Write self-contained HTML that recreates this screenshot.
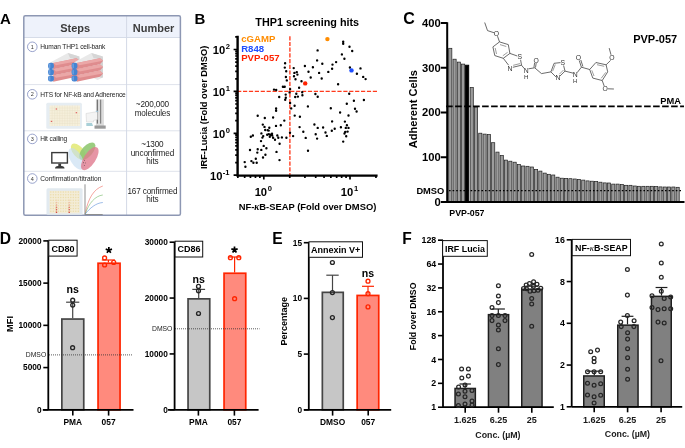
<!DOCTYPE html>
<html><head><meta charset="utf-8"><style>
html,body{margin:0;padding:0;background:#fff;width:685px;height:448px;overflow:hidden}
svg{display:block;font-family:"Liberation Sans", sans-serif;will-change:transform}
</style></head><body>
<svg width="685" height="448" viewBox="0 0 685 448">
<text x="0.00" y="24.20" font-size="15" font-weight="bold" text-anchor="start" fill="#000" >A</text>
<text x="194.50" y="24.20" font-size="15" font-weight="bold" text-anchor="start" fill="#000" >B</text>
<text x="403.20" y="23.60" font-size="16" font-weight="bold" text-anchor="start" fill="#000" >C</text>
<text x="-0.20" y="244.20" font-size="15.6" font-weight="bold" text-anchor="start" fill="#000" >D</text>
<text x="272.30" y="244.20" font-size="15.6" font-weight="bold" text-anchor="start" fill="#000" >E</text>
<text x="402.30" y="244.20" font-size="15.6" font-weight="bold" text-anchor="start" fill="#000" >F</text>
<rect x="23.80" y="15.80" width="156.60" height="21.70" fill="#eef2fb" stroke="none" stroke-width="1" />
<line x1="23.80" y1="84.60" x2="180.40" y2="84.60" stroke="#dfe3ec" stroke-width="1" />
<line x1="23.80" y1="130.80" x2="180.40" y2="130.80" stroke="#dfe3ec" stroke-width="1" />
<line x1="23.80" y1="171.30" x2="180.40" y2="171.30" stroke="#dfe3ec" stroke-width="1" />
<line x1="23.80" y1="37.50" x2="180.40" y2="37.50" stroke="#d6dce8" stroke-width="1.2" />
<line x1="126.60" y1="15.80" x2="126.60" y2="215.20" stroke="#d3d9e6" stroke-width="1" />
<rect x="23.80" y="15.80" width="156.60" height="199.40" fill="none" stroke="#8d97b3" stroke-width="1.5" rx="1.5"/>
<text x="75.20" y="31.60" font-size="11" font-weight="bold" text-anchor="middle" fill="#3c3c3c" >Steps</text>
<text x="153.50" y="31.60" font-size="11" font-weight="bold" text-anchor="middle" fill="#3c3c3c" >Number</text>
<circle cx="32.30" cy="46.80" r="4.80" fill="#fff" stroke="#7f8cbf" stroke-width="0.8"/>
<text x="32.30" y="48.80" font-size="5.5" font-weight="normal" text-anchor="middle" fill="#333" >1</text>
<text x="40.20" y="49.20" font-size="6.6" font-weight="normal" text-anchor="start" fill="#1e1e1e" letter-spacing="-0.15">Human THP1 cell-bank</text>
<circle cx="32.30" cy="94.30" r="4.80" fill="#fff" stroke="#7f8cbf" stroke-width="0.8"/>
<text x="32.30" y="96.30" font-size="5.5" font-weight="normal" text-anchor="middle" fill="#333" >2</text>
<text x="40.20" y="96.70" font-size="6.6" font-weight="normal" text-anchor="start" fill="#1e1e1e" letter-spacing="-0.15">HTS for NF-kB and Adherence</text>
<circle cx="32.30" cy="138.90" r="4.80" fill="#fff" stroke="#7f8cbf" stroke-width="0.8"/>
<text x="32.30" y="140.90" font-size="5.5" font-weight="normal" text-anchor="middle" fill="#333" >3</text>
<text x="40.20" y="141.30" font-size="6.6" font-weight="normal" text-anchor="start" fill="#1e1e1e" letter-spacing="-0.15">Hit calling</text>
<circle cx="32.30" cy="178.50" r="4.80" fill="#fff" stroke="#7f8cbf" stroke-width="0.8"/>
<text x="32.30" y="180.50" font-size="5.5" font-weight="normal" text-anchor="middle" fill="#333" >4</text>
<text x="40.20" y="180.90" font-size="6.6" font-weight="normal" text-anchor="start" fill="#1e1e1e" letter-spacing="0.02">Confirmation/titration</text>
<text x="152.40" y="107.00" font-size="8.2" font-weight="normal" text-anchor="middle" fill="#1e1e1e" letter-spacing="-0.15">~200,000</text>
<text x="152.40" y="115.50" font-size="8.2" font-weight="normal" text-anchor="middle" fill="#1e1e1e" letter-spacing="-0.15">molecules</text>
<text x="152.40" y="147.20" font-size="8.2" font-weight="normal" text-anchor="middle" fill="#1e1e1e" letter-spacing="-0.15">~1300</text>
<text x="152.40" y="155.70" font-size="8.2" font-weight="normal" text-anchor="middle" fill="#1e1e1e" letter-spacing="-0.15">unconfirmed</text>
<text x="152.40" y="164.20" font-size="8.2" font-weight="normal" text-anchor="middle" fill="#1e1e1e" letter-spacing="-0.15">hits</text>
<text x="152.40" y="193.90" font-size="8.2" font-weight="normal" text-anchor="middle" fill="#1e1e1e" letter-spacing="-0.15">167 confirmed</text>
<text x="152.40" y="202.40" font-size="8.2" font-weight="normal" text-anchor="middle" fill="#1e1e1e" letter-spacing="-0.15">hits</text>
<polygon points="50.6,62.2 67.9,53.1 79.4,56.4 79.4,77.5 74,80 53.8,70" fill="#e9e9e9"/>
<polygon points="67.9,53.1 79.4,56.4 79.4,60 70,58" fill="#d6d6d6"/>
<polygon points="75,58 79.4,58.5 79.4,77.5 77,78" fill="#d2d2d2"/>
<polygon points="53.2,63.0 76.5,58.2 79.6,60.8 76.5,64.2 53.2,69.2" fill="#df8c8e"/>
<polygon points="53.2,63.0 76.5,58.2 79.6,60.8 56,65.2" fill="#eba7a7"/>
<rect x="48.1" y="62.8" width="5.8" height="6.1" rx="2.2" fill="#4484d2"/>
<rect x="48.9" y="63.6" width="1.5" height="4.5" rx="0.7" fill="#6aa0e0"/>
<polygon points="53.2,69.3 76.5,64.5 79.6,67.1 76.5,70.5 53.2,75.5" fill="#df8c8e"/>
<polygon points="53.2,69.3 76.5,64.5 79.6,67.1 56,71.5" fill="#eba7a7"/>
<rect x="48.1" y="69.1" width="5.8" height="6.1" rx="2.2" fill="#4484d2"/>
<rect x="48.9" y="69.9" width="1.5" height="4.5" rx="0.7" fill="#6aa0e0"/>
<polygon points="53.2,75.6 76.5,70.8 79.6,73.39999999999999 76.5,76.8 53.2,81.8" fill="#df8c8e"/>
<polygon points="53.2,75.6 76.5,70.8 79.6,73.39999999999999 56,77.8" fill="#eba7a7"/>
<rect x="48.1" y="75.39999999999999" width="5.8" height="6.1" rx="2.2" fill="#4484d2"/>
<rect x="48.9" y="76.2" width="1.5" height="4.5" rx="0.7" fill="#6aa0e0"/>
<polygon points="74.1,62.2 91.4,53.1 102.9,56.4 102.9,77.5 97.5,80 77.3,70" fill="#e9e9e9"/>
<polygon points="91.4,53.1 102.9,56.4 102.9,60 93.5,58" fill="#d6d6d6"/>
<polygon points="98.5,58 102.9,58.5 102.9,77.5 100.5,78" fill="#d2d2d2"/>
<polygon points="76.7,63.0 100.0,58.2 103.1,60.8 100.0,64.2 76.7,69.2" fill="#df8c8e"/>
<polygon points="76.7,63.0 100.0,58.2 103.1,60.8 79.5,65.2" fill="#eba7a7"/>
<rect x="71.6" y="62.8" width="5.8" height="6.1" rx="2.2" fill="#4484d2"/>
<rect x="72.4" y="63.6" width="1.5" height="4.5" rx="0.7" fill="#6aa0e0"/>
<polygon points="76.7,69.3 100.0,64.5 103.1,67.1 100.0,70.5 76.7,75.5" fill="#df8c8e"/>
<polygon points="76.7,69.3 100.0,64.5 103.1,67.1 79.5,71.5" fill="#eba7a7"/>
<rect x="71.6" y="69.1" width="5.8" height="6.1" rx="2.2" fill="#4484d2"/>
<rect x="72.4" y="69.9" width="1.5" height="4.5" rx="0.7" fill="#6aa0e0"/>
<polygon points="76.7,75.6 100.0,70.8 103.1,73.39999999999999 100.0,76.8 76.7,81.8" fill="#df8c8e"/>
<polygon points="76.7,75.6 100.0,70.8 103.1,73.39999999999999 79.5,77.8" fill="#eba7a7"/>
<rect x="71.6" y="75.39999999999999" width="5.8" height="6.1" rx="2.2" fill="#4484d2"/>
<rect x="72.4" y="76.2" width="1.5" height="4.5" rx="0.7" fill="#6aa0e0"/>
<rect x="46.30" y="102.70" width="35.60" height="26.10" fill="#e6edf2" stroke="none" stroke-width="1" rx="1.5"/>
<rect x="49.60" y="105.50" width="30.40" height="20.50" fill="#f6f0dc" stroke="none" stroke-width="1" />
<path d="M52.13 105.5V126 M54.67 105.5V126 M57.20 105.5V126 M59.73 105.5V126 M62.27 105.5V126 M64.80 105.5V126 M67.33 105.5V126 M69.87 105.5V126 M72.40 105.5V126 M74.93 105.5V126 M77.47 105.5V126 M49.6 108.06H80 M49.6 110.62H80 M49.6 113.19H80 M49.6 115.75H80 M49.6 118.31H80 M49.6 120.88H80 M49.6 123.44H80" stroke="#e8e0c8" stroke-width="0.45" fill="none"/>
<rect x="55.70" y="108.40" width="1.40" height="1.20" fill="#e06060" stroke="none" stroke-width="1" />
<rect x="75.70" y="112.10" width="1.40" height="1.20" fill="#e06060" stroke="none" stroke-width="1" />
<rect x="50.80" y="120.80" width="1.40" height="1.20" fill="#e06060" stroke="none" stroke-width="1" />
<rect x="95.90" y="99.40" width="8.00" height="27.20" fill="#dcdcdc" stroke="none" stroke-width="1" />
<rect x="96.80" y="99.60" width="1.10" height="24.00" fill="#6a6a6a" stroke="none" stroke-width="1" />
<rect x="100.10" y="99.60" width="1.10" height="24.00" fill="#7a7a7a" stroke="none" stroke-width="1" />
<rect x="94.50" y="125.50" width="11.20" height="3.20" fill="#9a9a9a" stroke="none" stroke-width="1" />
<polygon points="86,113.5 96,111.8 97.5,112.3 97.5,119.5 93.5,120.5 93.5,122 86.5,122" fill="#f4f4f4" stroke="#c4c4c4" stroke-width="0.4"/>
<polygon points="86.3,123 92,123 93,126 86.3,126" fill="#a9d0d8"/>
<rect x="95.80" y="110.80" width="2.50" height="1.00" fill="#a8d0e6" stroke="none" stroke-width="1" />
<rect x="51.80" y="152.60" width="15.60" height="10.40" fill="none" stroke="#3a3a3a" stroke-width="1.4" />
<rect x="58.30" y="163.60" width="2.80" height="2.40" fill="#3a3a3a" stroke="none" stroke-width="1" />
<path d="M55 168.6 Q55 166 58 166 H61.5 Q64.5 166 64.5 168.6 Z" fill="#3a3a3a"/>
<ellipse cx="78.5" cy="151.8" rx="5.3" ry="10" transform="rotate(-41 78.5 151.8)" fill="#e6ec88"/>
<ellipse cx="87.3" cy="151.2" rx="5.4" ry="10.7" transform="rotate(41.6 87.3 151.2)" fill="#90c872" opacity="0.9"/>
<ellipse cx="76.2" cy="158.9" rx="5.9" ry="12" transform="rotate(-30 76.2 158.9)" fill="#c4dcf0" opacity="0.62"/>
<ellipse cx="89.8" cy="158.6" rx="5.9" ry="13.3" transform="rotate(33 89.8 158.6)" fill="#e07a8e" opacity="0.8"/>
<circle cx="84.40" cy="160.40" r="0.45" fill="#333" stroke="none" stroke-width="1"/>
<circle cx="85.50" cy="162.90" r="0.45" fill="#333" stroke="none" stroke-width="1"/>
<circle cx="83.40" cy="162.70" r="0.45" fill="#333" stroke="none" stroke-width="1"/>
<circle cx="84.40" cy="165.40" r="0.45" fill="#333" stroke="none" stroke-width="1"/>
<rect x="46.50" y="188.30" width="36.10" height="26.50" fill="#e2eaf0" stroke="none" stroke-width="1" rx="1.5"/>
<rect x="49.50" y="190.80" width="30.20" height="22.50" fill="#f3ecd6" stroke="none" stroke-width="1" />
<path d="M50.80 192.00h0.01 M50.80 194.75h0.01 M50.80 197.50h0.01 M50.80 200.25h0.01 M50.80 203.00h0.01 M50.80 205.75h0.01 M50.80 208.50h0.01 M50.80 211.25h0.01 M53.30 192.00h0.01 M53.30 194.75h0.01 M53.30 197.50h0.01 M53.30 200.25h0.01 M53.30 203.00h0.01 M53.30 205.75h0.01 M53.30 208.50h0.01 M53.30 211.25h0.01 M55.80 192.00h0.01 M55.80 194.75h0.01 M55.80 197.50h0.01 M55.80 200.25h0.01 M55.80 203.00h0.01 M55.80 205.75h0.01 M55.80 208.50h0.01 M55.80 211.25h0.01 M58.30 192.00h0.01 M58.30 194.75h0.01 M58.30 197.50h0.01 M58.30 200.25h0.01 M58.30 203.00h0.01 M58.30 205.75h0.01 M58.30 208.50h0.01 M58.30 211.25h0.01 M60.80 192.00h0.01 M60.80 194.75h0.01 M60.80 197.50h0.01 M60.80 200.25h0.01 M60.80 203.00h0.01 M60.80 205.75h0.01 M60.80 208.50h0.01 M60.80 211.25h0.01 M63.30 192.00h0.01 M63.30 194.75h0.01 M63.30 197.50h0.01 M63.30 200.25h0.01 M63.30 203.00h0.01 M63.30 205.75h0.01 M63.30 208.50h0.01 M63.30 211.25h0.01 M65.80 192.00h0.01 M65.80 194.75h0.01 M65.80 197.50h0.01 M65.80 200.25h0.01 M65.80 203.00h0.01 M65.80 205.75h0.01 M65.80 208.50h0.01 M65.80 211.25h0.01 M68.30 192.00h0.01 M68.30 194.75h0.01 M68.30 197.50h0.01 M68.30 200.25h0.01 M68.30 203.00h0.01 M68.30 205.75h0.01 M68.30 208.50h0.01 M68.30 211.25h0.01 M70.80 192.00h0.01 M70.80 194.75h0.01 M70.80 197.50h0.01 M70.80 200.25h0.01 M70.80 203.00h0.01 M70.80 205.75h0.01 M70.80 208.50h0.01 M70.80 211.25h0.01 M73.30 192.00h0.01 M73.30 194.75h0.01 M73.30 197.50h0.01 M73.30 200.25h0.01 M73.30 203.00h0.01 M73.30 205.75h0.01 M73.30 208.50h0.01 M73.30 211.25h0.01 M75.80 192.00h0.01 M75.80 194.75h0.01 M75.80 197.50h0.01 M75.80 200.25h0.01 M75.80 203.00h0.01 M75.80 205.75h0.01 M75.80 208.50h0.01 M75.80 211.25h0.01 M78.30 192.00h0.01 M78.30 194.75h0.01 M78.30 197.50h0.01 M78.30 200.25h0.01 M78.30 203.00h0.01 M78.30 205.75h0.01 M78.30 208.50h0.01 M78.30 211.25h0.01" stroke="#ebdcaa" stroke-width="1.4" stroke-linecap="round"/>
<circle cx="56.50" cy="200.20" r="0.80" fill="#f3d6b8" stroke="none" stroke-width="1"/>
<circle cx="56.50" cy="202.60" r="0.80" fill="#eec0a8" stroke="none" stroke-width="1"/>
<circle cx="56.50" cy="205.00" r="0.80" fill="#e8a08a" stroke="none" stroke-width="1"/>
<circle cx="56.50" cy="207.40" r="0.80" fill="#df7b6a" stroke="none" stroke-width="1"/>
<circle cx="56.50" cy="209.80" r="0.80" fill="#d8564a" stroke="none" stroke-width="1"/>
<circle cx="56.50" cy="212.20" r="0.80" fill="#cf3b30" stroke="none" stroke-width="1"/>
<circle cx="69.20" cy="200.20" r="0.80" fill="#f3d6b8" stroke="none" stroke-width="1"/>
<circle cx="69.20" cy="202.60" r="0.80" fill="#eec0a8" stroke="none" stroke-width="1"/>
<circle cx="69.20" cy="205.00" r="0.80" fill="#e8a08a" stroke="none" stroke-width="1"/>
<circle cx="69.20" cy="207.40" r="0.80" fill="#df7b6a" stroke="none" stroke-width="1"/>
<circle cx="69.20" cy="209.80" r="0.80" fill="#d8564a" stroke="none" stroke-width="1"/>
<circle cx="69.20" cy="212.20" r="0.80" fill="#cf3b30" stroke="none" stroke-width="1"/>
<line x1="85.00" y1="184.30" x2="85.00" y2="214.80" stroke="#444" stroke-width="0.6" />
<line x1="85.00" y1="214.60" x2="102.70" y2="214.60" stroke="#888" stroke-width="1.0" />
<path d="M85.2 214 C 88 198, 94 189, 102.8 186" stroke="#ef6a5f" stroke-width="0.6" fill="none"/>
<path d="M85.2 214 C 89 203, 95 196, 102.8 195" stroke="#76b866" stroke-width="0.6" fill="none"/>
<path d="M85.2 214 C 90 208, 96 203, 102.8 202.5" stroke="#5b8ed6" stroke-width="0.6" fill="none"/>
<text x="307.20" y="26.40" font-size="10.8" font-weight="bold" text-anchor="middle" fill="#000" >THP1 screening hits</text>
<line x1="289.90" y1="36.20" x2="289.90" y2="175.00" stroke="#ff3a1c" stroke-width="1.35" stroke-dasharray="4.2 1.5"/>
<line x1="237.10" y1="91.40" x2="378.00" y2="91.40" stroke="#ff3a1c" stroke-width="1.3" stroke-dasharray="4.2 1.7"/>
<path d="M285.1 63.2h0.01 M284.8 67.6h0.01 M286.2 71.2h0.01 M285.9 77.0h0.01 M286.8 80.4h0.01 M293.7 68.1h0.01 M294.4 72.9h0.01 M296.8 72.1h0.01 M297.4 74.6h0.01 M294.0 76.2h0.01 M295.5 79.2h0.01 M304.9 66.0h0.01 M308.5 71.8h0.01 M301.5 81.3h0.01 M282.9 86.8h0.01 M284.7 86.8h0.01 M299.1 87.7h0.01 M274.0 89.6h0.01 M276.2 90.0h0.01 M290.1 89.1h0.01 M289.6 92.4h0.01 M285.7 94.6h0.01 M296.3 93.8h0.01 M302.2 92.2h0.01 M302.4 95.2h0.01 M343.2 41.8h0.01 M343.2 43.8h0.01 M349.5 46.7h0.01 M352.2 51.0h0.01 M317.6 50.4h0.01 M341.9 54.4h0.01 M344.4 58.8h0.01 M317.1 60.4h0.01 M322.3 63.7h0.01 M336.1 62.1h0.01 M332.5 64.6h0.01 M332.1 68.8h0.01 M328.3 71.9h0.01 M312.9 67.2h0.01 M319.1 72.9h0.01 M310.7 77.5h0.01 M321.7 78.5h0.01 M338.1 84.2h0.01 M349.9 67.5h0.01 M360.5 68.4h0.01 M356.9 73.8h0.01 M363.2 76.9h0.01 M365.6 79.1h0.01 M315.4 94.0h0.01 M317.7 96.8h0.01 M349.2 93.7h0.01 M353.9 100.8h0.01 M363.9 100.0h0.01 M346.8 103.7h0.01 M307.9 106.4h0.01 M330.8 108.2h0.01 M340.1 112.5h0.01 M355.0 108.8h0.01 M356.6 111.5h0.01 M348.5 115.5h0.01 M332.1 121.4h0.01 M344.9 121.6h0.01 M314.4 124.5h0.01 M317.7 127.9h0.01 M323.1 127.5h0.01 M334.7 128.8h0.01 M331.8 130.8h0.01 M340.9 127.2h0.01 M346.9 125.2h0.01 M345.8 127.9h0.01 M348.5 127.9h0.01 M345.2 131.9h0.01 M347.6 131.6h0.01 M344.5 133.5h0.01 M346.2 136.2h0.01 M325.5 132.5h0.01 M326.8 135.9h0.01 M315.7 134.3h0.01 M317.1 138.6h0.01 M305.7 137.9h0.01 M343.2 141.6h0.01 M279.2 97.0h0.01 M285.2 99.7h0.01 M285.8 97.7h0.01 M295.2 97.0h0.01 M297.9 96.6h0.01 M290.1 103.0h0.01 M294.6 105.7h0.01 M291.2 108.4h0.01 M276.1 108.4h0.01 M276.1 110.8h0.01 M257.7 115.8h0.01 M264.8 118.0h0.01 M273.1 117.5h0.01 M299.9 116.7h0.01 M299.6 127.1h0.01 M250.0 150.0h0.01 M257.7 149.2h0.01 M263.7 145.9h0.01 M261.3 149.9h0.01 M266.4 148.3h0.01 M276.5 151.9h0.01 M257.3 152.6h0.01 M303.3 131.8h0.01 M294.7 115.6h0.01 M284.3 120.6h0.01 M262.8 124.6h0.01 M264.5 126.9h0.01 M269.3 127.7h0.01 M276.0 125.9h0.01 M280.8 125.2h0.01 M265.2 130.0h0.01 M267.8 130.2h0.01 M268.7 130.6h0.01 M261.4 133.4h0.01 M250.8 136.8h0.01 M252.9 135.5h0.01 M263.2 136.1h0.01 M262.4 137.6h0.01 M267.2 134.8h0.01 M268.8 134.1h0.01 M270.4 134.8h0.01 M272.0 133.6h0.01 M272.2 135.4h0.01 M269.8 136.7h0.01 M273.1 137.7h0.01 M275.0 139.8h0.01 M277.3 135.4h0.01 M278.3 137.7h0.01 M281.9 137.4h0.01 M286.4 137.7h0.01 M290.0 132.8h0.01 M293.1 136.1h0.01 M261.0 141.1h0.01 M279.6 143.8h0.01 M265.4 154.8h0.01 M263.0 157.5h0.01 M255.8 158.8h0.01 M251.4 161.1h0.01 M253.4 162.8h0.01 M256.7 162.8h0.01 M244.7 162.1h0.01 M245.4 166.8h0.01 M279.5 160.1h0.01 M308.0 150.8h0.01" stroke="#000" stroke-width="2.4" stroke-linecap="round" fill="none"/>
<circle cx="327.40" cy="39.10" r="2.20" fill="#ff8c00" stroke="none" stroke-width="1"/>
<circle cx="351.50" cy="70.40" r="2.20" fill="#1f4fff" stroke="none" stroke-width="1"/>
<circle cx="305.20" cy="83.40" r="2.20" fill="#ff2200" stroke="none" stroke-width="1"/>
<text x="241.20" y="41.90" font-size="9.6" font-weight="bold" text-anchor="start" fill="#ff8c00" >cGAMP</text>
<text x="241.20" y="51.60" font-size="9.6" font-weight="bold" text-anchor="start" fill="#1f4fff" >R848</text>
<text x="241.20" y="61.30" font-size="9.6" font-weight="bold" text-anchor="start" fill="#ff2200" >PVP-057</text>
<path d="M237.6 35.8 V175.6 H377.6" stroke="#000" stroke-width="2.4" fill="none" stroke-linejoin="miter"/>
<path d="M233.6 175.20H237.6 M235.2 162.59H237.6 M235.2 155.21H237.6 M235.2 149.97H237.6 M235.2 145.91H237.6 M235.2 142.60H237.6 M235.2 139.79H237.6 M235.2 137.36H237.6 M235.2 135.22H237.6 M233.6 133.30H237.6 M235.2 120.69H237.6 M235.2 113.31H237.6 M235.2 108.07H237.6 M235.2 104.01H237.6 M235.2 100.70H237.6 M235.2 97.89H237.6 M235.2 95.46H237.6 M235.2 93.32H237.6 M233.6 91.40H237.6 M235.2 78.79H237.6 M235.2 71.41H237.6 M235.2 66.17H237.6 M235.2 62.11H237.6 M235.2 58.80H237.6 M235.2 55.99H237.6 M235.2 53.56H237.6 M235.2 51.42H237.6 M233.6 49.50H237.6 M235.2 36.89H237.6 M237.85 175.6V178.0 M244.68 175.6V178.0 M250.45 175.6V178.0 M255.45 175.6V178.0 M259.86 175.6V178.0 M263.80 175.6V179.6 M289.75 175.6V178.0 M304.93 175.6V178.0 M315.70 175.6V178.0 M324.05 175.6V178.0 M330.88 175.6V178.0 M336.65 175.6V178.0 M341.65 175.6V178.0 M346.06 175.6V178.0 M350.00 175.6V179.6 M375.95 175.6V178.0 M375.95 175.6V177.8" stroke="#000" stroke-width="1.7" fill="none"/>
<text x="225.30" y="54.30" font-size="11.2" font-weight="bold" text-anchor="end" fill="#000" >10</text>
<text x="225.70" y="49.30" font-size="7.6" font-weight="bold" text-anchor="start" fill="#000" >2</text>
<text x="225.30" y="96.20" font-size="11.2" font-weight="bold" text-anchor="end" fill="#000" >10</text>
<text x="225.70" y="91.20" font-size="7.6" font-weight="bold" text-anchor="start" fill="#000" >1</text>
<text x="225.30" y="138.10" font-size="11.2" font-weight="bold" text-anchor="end" fill="#000" >10</text>
<text x="225.70" y="133.10" font-size="7.6" font-weight="bold" text-anchor="start" fill="#000" >0</text>
<text x="222.40" y="180.00" font-size="11.2" font-weight="bold" text-anchor="end" fill="#000" >10</text>
<text x="222.80" y="175.00" font-size="7.6" font-weight="bold" text-anchor="start" fill="#000" >-1</text>
<text x="267.10" y="196.00" font-size="11.2" font-weight="bold" text-anchor="end" fill="#000" >10</text>
<text x="267.70" y="191.20" font-size="7.6" font-weight="bold" text-anchor="start" fill="#000" >0</text>
<text x="353.30" y="196.00" font-size="11.2" font-weight="bold" text-anchor="end" fill="#000" >10</text>
<text x="353.90" y="191.20" font-size="7.6" font-weight="bold" text-anchor="start" fill="#000" >1</text>
<text x="307.50" y="210.20" font-size="9.4" font-weight="bold" text-anchor="middle" fill="#000" >NF-<tspan font-family="Liberation Serif" font-style="italic">κ</tspan>B-SEAP (Fold over DMSO)</text>
<text transform="translate(206.6 107.4) rotate(-90)" font-size="9.3" font-weight="bold" text-anchor="middle">IRF-Lucia (Fold over DMSO)</text>
<rect x="448.70" y="48.30" width="3.15" height="153.70" fill="#9c9c9c" stroke="#1e1e1e" stroke-width="0.7" />
<rect x="452.99" y="59.20" width="3.15" height="142.80" fill="#9c9c9c" stroke="#1e1e1e" stroke-width="0.7" />
<rect x="457.28" y="62.10" width="3.15" height="139.90" fill="#9c9c9c" stroke="#1e1e1e" stroke-width="0.7" />
<rect x="461.57" y="64.10" width="3.15" height="137.90" fill="#9c9c9c" stroke="#1e1e1e" stroke-width="0.7" />
<rect x="465.56" y="65.20" width="3.15" height="136.80" fill="#000" stroke="#000" stroke-width="0.9" />
<rect x="470.15" y="87.50" width="3.15" height="114.50" fill="#9c9c9c" stroke="#1e1e1e" stroke-width="0.7" />
<rect x="474.44" y="107.00" width="3.15" height="95.00" fill="#9c9c9c" stroke="#1e1e1e" stroke-width="0.7" />
<rect x="478.73" y="133.20" width="3.15" height="68.80" fill="#9c9c9c" stroke="#1e1e1e" stroke-width="0.7" />
<rect x="483.02" y="134.10" width="3.15" height="67.90" fill="#9c9c9c" stroke="#1e1e1e" stroke-width="0.7" />
<rect x="487.31" y="134.60" width="3.15" height="67.40" fill="#9c9c9c" stroke="#1e1e1e" stroke-width="0.7" />
<rect x="491.60" y="142.70" width="3.15" height="59.30" fill="#9c9c9c" stroke="#1e1e1e" stroke-width="0.7" />
<rect x="495.89" y="152.10" width="3.15" height="49.90" fill="#9c9c9c" stroke="#1e1e1e" stroke-width="0.7" />
<rect x="500.18" y="155.50" width="3.15" height="46.50" fill="#9c9c9c" stroke="#1e1e1e" stroke-width="0.7" />
<rect x="504.47" y="160.10" width="3.15" height="41.90" fill="#9c9c9c" stroke="#1e1e1e" stroke-width="0.7" />
<rect x="508.76" y="161.20" width="3.15" height="40.80" fill="#9c9c9c" stroke="#1e1e1e" stroke-width="0.7" />
<rect x="513.05" y="162.20" width="3.15" height="39.80" fill="#9c9c9c" stroke="#1e1e1e" stroke-width="0.7" />
<rect x="517.34" y="164.50" width="3.15" height="37.50" fill="#9c9c9c" stroke="#1e1e1e" stroke-width="0.7" />
<rect x="521.63" y="166.00" width="3.15" height="36.00" fill="#9c9c9c" stroke="#1e1e1e" stroke-width="0.7" />
<rect x="525.92" y="166.30" width="3.15" height="35.70" fill="#9c9c9c" stroke="#1e1e1e" stroke-width="0.7" />
<rect x="530.21" y="167.00" width="3.15" height="35.00" fill="#9c9c9c" stroke="#1e1e1e" stroke-width="0.7" />
<rect x="534.50" y="169.50" width="3.15" height="32.50" fill="#9c9c9c" stroke="#1e1e1e" stroke-width="0.7" />
<rect x="538.79" y="171.10" width="3.15" height="30.90" fill="#9c9c9c" stroke="#1e1e1e" stroke-width="0.7" />
<rect x="543.08" y="173.10" width="3.15" height="28.90" fill="#9c9c9c" stroke="#1e1e1e" stroke-width="0.7" />
<rect x="547.37" y="174.30" width="3.15" height="27.70" fill="#9c9c9c" stroke="#1e1e1e" stroke-width="0.7" />
<rect x="551.66" y="175.00" width="3.15" height="27.00" fill="#9c9c9c" stroke="#1e1e1e" stroke-width="0.7" />
<rect x="555.95" y="177.20" width="3.15" height="24.80" fill="#9c9c9c" stroke="#1e1e1e" stroke-width="0.7" />
<rect x="560.24" y="178.20" width="3.15" height="23.80" fill="#9c9c9c" stroke="#1e1e1e" stroke-width="0.7" />
<rect x="564.53" y="178.40" width="3.15" height="23.60" fill="#9c9c9c" stroke="#1e1e1e" stroke-width="0.7" />
<rect x="568.82" y="178.70" width="3.15" height="23.30" fill="#9c9c9c" stroke="#1e1e1e" stroke-width="0.7" />
<rect x="573.11" y="179.00" width="3.15" height="23.00" fill="#9c9c9c" stroke="#1e1e1e" stroke-width="0.7" />
<rect x="577.40" y="179.40" width="3.15" height="22.60" fill="#9c9c9c" stroke="#1e1e1e" stroke-width="0.7" />
<rect x="581.69" y="180.10" width="3.15" height="21.90" fill="#9c9c9c" stroke="#1e1e1e" stroke-width="0.7" />
<rect x="585.98" y="180.90" width="3.15" height="21.10" fill="#9c9c9c" stroke="#1e1e1e" stroke-width="0.7" />
<rect x="590.27" y="181.20" width="3.15" height="20.80" fill="#9c9c9c" stroke="#1e1e1e" stroke-width="0.7" />
<rect x="594.56" y="181.50" width="3.15" height="20.50" fill="#9c9c9c" stroke="#1e1e1e" stroke-width="0.7" />
<rect x="598.85" y="182.20" width="3.15" height="19.80" fill="#9c9c9c" stroke="#1e1e1e" stroke-width="0.7" />
<rect x="603.14" y="182.90" width="3.15" height="19.10" fill="#9c9c9c" stroke="#1e1e1e" stroke-width="0.7" />
<rect x="607.43" y="183.00" width="3.15" height="19.00" fill="#9c9c9c" stroke="#1e1e1e" stroke-width="0.7" />
<rect x="611.72" y="184.10" width="3.15" height="17.90" fill="#9c9c9c" stroke="#1e1e1e" stroke-width="0.7" />
<rect x="616.01" y="184.10" width="3.15" height="17.90" fill="#9c9c9c" stroke="#1e1e1e" stroke-width="0.7" />
<rect x="620.30" y="184.50" width="3.15" height="17.50" fill="#9c9c9c" stroke="#1e1e1e" stroke-width="0.7" />
<rect x="624.59" y="185.30" width="3.15" height="16.70" fill="#9c9c9c" stroke="#1e1e1e" stroke-width="0.7" />
<rect x="628.88" y="185.30" width="3.15" height="16.70" fill="#9c9c9c" stroke="#1e1e1e" stroke-width="0.7" />
<rect x="633.17" y="186.00" width="3.15" height="16.00" fill="#9c9c9c" stroke="#1e1e1e" stroke-width="0.7" />
<rect x="637.46" y="186.30" width="3.15" height="15.70" fill="#9c9c9c" stroke="#1e1e1e" stroke-width="0.7" />
<rect x="641.75" y="186.30" width="3.15" height="15.70" fill="#9c9c9c" stroke="#1e1e1e" stroke-width="0.7" />
<rect x="646.04" y="186.30" width="3.15" height="15.70" fill="#9c9c9c" stroke="#1e1e1e" stroke-width="0.7" />
<rect x="650.33" y="186.30" width="3.15" height="15.70" fill="#9c9c9c" stroke="#1e1e1e" stroke-width="0.7" />
<rect x="654.62" y="186.60" width="3.15" height="15.40" fill="#9c9c9c" stroke="#1e1e1e" stroke-width="0.7" />
<rect x="658.91" y="186.90" width="3.15" height="15.10" fill="#9c9c9c" stroke="#1e1e1e" stroke-width="0.7" />
<rect x="663.20" y="187.00" width="3.15" height="15.00" fill="#9c9c9c" stroke="#1e1e1e" stroke-width="0.7" />
<rect x="667.49" y="187.00" width="3.15" height="15.00" fill="#9c9c9c" stroke="#1e1e1e" stroke-width="0.7" />
<rect x="671.78" y="187.00" width="3.15" height="15.00" fill="#9c9c9c" stroke="#1e1e1e" stroke-width="0.7" />
<rect x="676.07" y="187.30" width="3.15" height="14.70" fill="#9c9c9c" stroke="#1e1e1e" stroke-width="0.7" />
<line x1="446.10" y1="106.40" x2="684.00" y2="106.40" stroke="#000" stroke-width="1.6" stroke-dasharray="6.6 2.4"/>
<line x1="449.00" y1="190.70" x2="683.00" y2="190.70" stroke="#000" stroke-width="1.3" stroke-dasharray="1.6 2.0"/>
<path d="M447.2 22.3 V202.0 H684.5" stroke="#000" stroke-width="2" fill="none"/>
<path d="M440.8 202.00H447.2 M440.8 157.25H447.2 M440.8 112.50H447.2 M440.8 67.75H447.2 M440.8 23.00H447.2" stroke="#000" stroke-width="1.8" fill="none"/>
<text x="440.70" y="161.15" font-size="11.2" font-weight="bold" text-anchor="end" fill="#000" >100</text>
<text x="440.70" y="116.40" font-size="11.2" font-weight="bold" text-anchor="end" fill="#000" >200</text>
<text x="440.70" y="71.65" font-size="11.2" font-weight="bold" text-anchor="end" fill="#000" >300</text>
<text x="440.70" y="26.90" font-size="11.2" font-weight="bold" text-anchor="end" fill="#000" >400</text>
<text x="440.70" y="206.20" font-size="11.2" font-weight="bold" text-anchor="end" fill="#000" >0</text>
<text x="444.30" y="194.30" font-size="9.3" font-weight="bold" text-anchor="end" fill="#000" >DMSO</text>
<text x="681.00" y="103.80" font-size="9.3" font-weight="bold" text-anchor="end" fill="#000" >PMA</text>
<text x="466.90" y="216.10" font-size="8.8" font-weight="bold" text-anchor="middle" fill="#000" >PVP-057</text>
<text x="677.20" y="42.80" font-size="11" font-weight="bold" text-anchor="end" fill="#000" >PVP-057</text>
<text transform="translate(417.3 109.2) rotate(-90)" font-size="11.1" font-weight="bold" text-anchor="middle">Adherent Cells</text>
<polyline points="484.7,22.5 487.5,30.6 494.2,32.8" fill="none" stroke="#3a3a3a" stroke-width="0.75"/>
<text x="496.4" y="35.6" font-size="6.8" font-weight="normal" text-anchor="middle" fill="#333">O</text>
<polyline points="497.5,36.2 499.5,41.9" fill="none" stroke="#3a3a3a" stroke-width="0.75"/>
<polyline points="499.5,41.9 508.3,44.6 509.9,53.4 503.3,58.3 494.8,55.6 492.9,46.9 499.5,41.9" fill="none" stroke="#3a3a3a" stroke-width="0.75"/>
<polyline points="500.0,44.6 506.3,46.5" fill="none" stroke="#3a3a3a" stroke-width="0.5"/>
<polyline points="495.2,48.0 496.5,54.0" fill="none" stroke="#3a3a3a" stroke-width="0.5"/>
<polyline points="502.8,55.8 507.6,52.3" fill="none" stroke="#3a3a3a" stroke-width="0.5"/>
<text x="519.8" y="59.1" font-size="6.8" font-weight="normal" text-anchor="middle" fill="#333">S</text>
<polyline points="509.9,53.4 517.3,56.0" fill="none" stroke="#3a3a3a" stroke-width="0.75"/>
<polyline points="520.6,59.8 521.5,65.2" fill="none" stroke="#3a3a3a" stroke-width="0.75"/>
<text x="510.0" y="71.0" font-size="6.8" font-weight="normal" text-anchor="middle" fill="#333">N</text>
<polyline points="503.3,58.3 508.6,65.2" fill="none" stroke="#3a3a3a" stroke-width="0.75"/>
<polyline points="512.8,67.3 521.5,65.2" fill="none" stroke="#3a3a3a" stroke-width="0.75"/>
<polyline points="513.2,65.3 520.0,63.6" fill="none" stroke="#3a3a3a" stroke-width="0.5"/>
<polyline points="521.5,65.2 524.3,68.6" fill="none" stroke="#3a3a3a" stroke-width="0.75"/>
<text x="526.3" y="72.8" font-size="6.8" font-weight="normal" text-anchor="middle" fill="#333">N</text>
<text x="526.3" y="78.8" font-size="6.2" font-weight="normal" text-anchor="middle" fill="#333">H</text>
<polyline points="528.5,68.8 534.7,67.8" fill="none" stroke="#3a3a3a" stroke-width="0.75"/>
<polyline points="533.9,67.6 534.6,63.0" fill="none" stroke="#3a3a3a" stroke-width="0.75"/>
<polyline points="535.5,67.6 536.2,63.0" fill="none" stroke="#3a3a3a" stroke-width="0.75"/>
<text x="536.2" y="62.5" font-size="6.8" font-weight="normal" text-anchor="middle" fill="#333">O</text>
<polyline points="534.7,67.8 541.5,73.6 550.9,71.9" fill="none" stroke="#3a3a3a" stroke-width="0.75"/>
<polyline points="550.9,71.9 554.1,63.3" fill="none" stroke="#3a3a3a" stroke-width="0.75"/>
<polyline points="552.6,71.2 555.3,64.5" fill="none" stroke="#3a3a3a" stroke-width="0.5"/>
<polyline points="554.1,63.3 560.5,62.6" fill="none" stroke="#3a3a3a" stroke-width="0.75"/>
<text x="562.7" y="64.9" font-size="6.8" font-weight="normal" text-anchor="middle" fill="#333">S</text>
<polyline points="563.6,65.5 565.0,71.1" fill="none" stroke="#3a3a3a" stroke-width="0.75"/>
<polyline points="565.0,71.1 560.0,76.0" fill="none" stroke="#3a3a3a" stroke-width="0.75"/>
<polyline points="563.5,70.0 559.4,74.2" fill="none" stroke="#3a3a3a" stroke-width="0.5"/>
<text x="558.0" y="79.7" font-size="6.8" font-weight="normal" text-anchor="middle" fill="#333">N</text>
<polyline points="555.9,76.9 550.9,71.9" fill="none" stroke="#3a3a3a" stroke-width="0.75"/>
<polyline points="565.0,71.1 573.3,73.2" fill="none" stroke="#3a3a3a" stroke-width="0.75"/>
<text x="575.2" y="76.6" font-size="6.8" font-weight="normal" text-anchor="middle" fill="#333">N</text>
<text x="575.2" y="82.7" font-size="5.8" font-weight="normal" text-anchor="middle" fill="#333">H</text>
<polyline points="577.2,72.6 581.4,67.2" fill="none" stroke="#3a3a3a" stroke-width="0.75"/>
<polyline points="581.4,67.2 579.2,60.4" fill="none" stroke="#3a3a3a" stroke-width="0.75"/>
<polyline points="582.9,66.5 580.8,60.0" fill="none" stroke="#3a3a3a" stroke-width="0.75"/>
<text x="578.3" y="60.1" font-size="6.8" font-weight="normal" text-anchor="middle" fill="#333">O</text>
<polyline points="581.4,67.2 589.7,69.5" fill="none" stroke="#3a3a3a" stroke-width="0.75"/>
<polyline points="589.7,69.5 595.9,62.5 606.1,64.8 607.7,71.9 602.2,80.5 592.8,78.1 589.7,69.5" fill="none" stroke="#3a3a3a" stroke-width="0.75"/>
<polyline points="597.0,64.7 604.2,66.3" fill="none" stroke="#3a3a3a" stroke-width="0.5"/>
<polyline points="605.8,72.3 601.2,78.3" fill="none" stroke="#3a3a3a" stroke-width="0.5"/>
<polyline points="591.8,70.3 594.0,76.0" fill="none" stroke="#3a3a3a" stroke-width="0.5"/>
<polyline points="606.1,64.8 610.6,60.4" fill="none" stroke="#3a3a3a" stroke-width="0.75"/>
<text x="611.9" y="59.9" font-size="6.8" font-weight="normal" text-anchor="middle" fill="#333">O</text>
<polyline points="611.0,54.8 609.2,48.1" fill="none" stroke="#3a3a3a" stroke-width="0.75"/>
<polyline points="602.2,80.5 604.2,86.0" fill="none" stroke="#3a3a3a" stroke-width="0.75"/>
<text x="605.2" y="91.4" font-size="6.8" font-weight="normal" text-anchor="middle" fill="#333">O</text>
<polyline points="607.8,88.8 613.9,89.0" fill="none" stroke="#3a3a3a" stroke-width="0.75"/>
<rect x="61.85" y="319.05" width="21.90" height="90.75" fill="#c6c6c6" stroke="#454545" stroke-width="1.7" />
<rect x="98.05" y="263.25" width="22.00" height="146.55" fill="#ff8a7d" stroke="#ff2500" stroke-width="1.7" />
<line x1="49.00" y1="354.90" x2="133.00" y2="354.90" stroke="#333" stroke-width="0.9" stroke-dasharray="0.9 1.1"/>
<text x="46.20" y="357.20" font-size="6.8" font-weight="normal" text-anchor="end" fill="#222" >DMSO</text>
<line x1="72.70" y1="302.20" x2="72.70" y2="318.20" stroke="#454545" stroke-width="1.2" />
<line x1="66.10" y1="302.20" x2="79.30" y2="302.20" stroke="#454545" stroke-width="1.2" />
<circle cx="72.70" cy="300.20" r="1.95" fill="none" stroke="#262626" stroke-width="1.35"/>
<circle cx="72.70" cy="305.10" r="1.95" fill="none" stroke="#262626" stroke-width="1.35"/>
<circle cx="72.60" cy="347.70" r="1.95" fill="none" stroke="#262626" stroke-width="1.35"/>
<line x1="108.40" y1="260.00" x2="108.40" y2="262.40" stroke="#ff2500" stroke-width="1.2" />
<line x1="101.80" y1="260.00" x2="115.00" y2="260.00" stroke="#ff2500" stroke-width="1.2" />
<circle cx="104.60" cy="258.00" r="1.95" fill="none" stroke="#ff2500" stroke-width="1.35"/>
<circle cx="104.60" cy="265.00" r="1.95" fill="none" stroke="#ff2500" stroke-width="1.35"/>
<circle cx="113.70" cy="262.40" r="1.95" fill="none" stroke="#ff2500" stroke-width="1.35"/>
<path d="M48.3 240.5 V409.8" stroke="#000" stroke-width="1.8" fill="none"/>
<line x1="43.30" y1="240.90" x2="48.30" y2="240.90" stroke="#000" stroke-width="1.6" />
<text x="41.50" y="243.80" font-size="8.3" font-weight="bold" text-anchor="end" fill="#000" >20000</text>
<line x1="43.30" y1="283.12" x2="48.30" y2="283.12" stroke="#000" stroke-width="1.6" />
<text x="41.50" y="286.02" font-size="8.3" font-weight="bold" text-anchor="end" fill="#000" >15000</text>
<line x1="43.30" y1="325.35" x2="48.30" y2="325.35" stroke="#000" stroke-width="1.6" />
<text x="41.50" y="328.25" font-size="8.3" font-weight="bold" text-anchor="end" fill="#000" >10000</text>
<line x1="43.30" y1="367.58" x2="48.30" y2="367.58" stroke="#000" stroke-width="1.6" />
<text x="41.50" y="370.48" font-size="8.3" font-weight="bold" text-anchor="end" fill="#000" >5000</text>
<line x1="43.30" y1="409.80" x2="48.30" y2="409.80" stroke="#000" stroke-width="1.6" />
<text x="41.50" y="412.70" font-size="8.3" font-weight="bold" text-anchor="end" fill="#000" >0</text>
<line x1="42.80" y1="409.80" x2="133.50" y2="409.80" stroke="#000" stroke-width="1.8" />
<line x1="72.80" y1="409.80" x2="72.80" y2="415.60" stroke="#000" stroke-width="1.6" />
<text x="72.80" y="424.70" font-size="8.4" font-weight="bold" text-anchor="middle" fill="#000" >PMA</text>
<line x1="108.60" y1="409.80" x2="108.60" y2="415.60" stroke="#000" stroke-width="1.6" />
<text x="108.60" y="424.70" font-size="8.4" font-weight="bold" text-anchor="middle" fill="#000" >057</text>
<rect x="48.80" y="240.20" width="28.30" height="15.90" fill="#fff" stroke="#111" stroke-width="1.0" />
<text x="62.95" y="251.50" font-size="9" font-weight="bold" text-anchor="middle" fill="#000" >CD80</text>
<text x="72.60" y="292.80" font-size="10.6" font-weight="bold" text-anchor="middle" fill="#000" >ns</text>
<path d="M108.85 250.20L108.85 246.90M108.85 250.20L111.99 249.18M108.85 250.20L110.79 252.87M108.85 250.20L106.91 252.87M108.85 250.20L105.71 249.18" stroke="#000" stroke-width="1.7" stroke-linecap="butt" fill="none"/>
<text transform="translate(13.2 324) rotate(-90)" font-size="9.3" font-weight="bold" text-anchor="middle">MFI</text>
<rect x="188.05" y="298.85" width="21.70" height="110.95" fill="#c6c6c6" stroke="#454545" stroke-width="1.7" />
<rect x="224.05" y="273.25" width="21.70" height="136.55" fill="#ff8a7d" stroke="#ff2500" stroke-width="1.7" />
<line x1="175.00" y1="328.80" x2="259.50" y2="328.80" stroke="#333" stroke-width="0.9" stroke-dasharray="0.9 1.1"/>
<text x="172.40" y="331.10" font-size="6.8" font-weight="normal" text-anchor="end" fill="#222" >DMSO</text>
<line x1="198.70" y1="289.40" x2="198.70" y2="298.00" stroke="#454545" stroke-width="1.2" />
<line x1="192.30" y1="289.40" x2="205.10" y2="289.40" stroke="#454545" stroke-width="1.2" />
<circle cx="198.50" cy="286.40" r="1.95" fill="none" stroke="#262626" stroke-width="1.35"/>
<circle cx="198.50" cy="290.80" r="1.95" fill="none" stroke="#262626" stroke-width="1.35"/>
<circle cx="198.50" cy="313.50" r="1.95" fill="none" stroke="#262626" stroke-width="1.35"/>
<line x1="234.60" y1="257.00" x2="234.60" y2="272.40" stroke="#ff2500" stroke-width="1.2" />
<line x1="228.50" y1="257.00" x2="240.70" y2="257.00" stroke="#ff2500" stroke-width="1.2" />
<circle cx="230.40" cy="257.70" r="1.95" fill="none" stroke="#ff2500" stroke-width="1.35"/>
<circle cx="238.80" cy="257.70" r="1.95" fill="none" stroke="#ff2500" stroke-width="1.35"/>
<circle cx="234.60" cy="298.70" r="1.95" fill="none" stroke="#ff2500" stroke-width="1.35"/>
<path d="M174.6 241.7 V409.8" stroke="#000" stroke-width="1.8" fill="none"/>
<line x1="169.60" y1="242.19" x2="174.60" y2="242.19" stroke="#000" stroke-width="1.6" />
<text x="167.80" y="245.09" font-size="8.3" font-weight="bold" text-anchor="end" fill="#000" >30000</text>
<line x1="169.60" y1="298.06" x2="174.60" y2="298.06" stroke="#000" stroke-width="1.6" />
<text x="167.80" y="300.96" font-size="8.3" font-weight="bold" text-anchor="end" fill="#000" >20000</text>
<line x1="169.60" y1="353.93" x2="174.60" y2="353.93" stroke="#000" stroke-width="1.6" />
<text x="167.80" y="356.83" font-size="8.3" font-weight="bold" text-anchor="end" fill="#000" >10000</text>
<line x1="169.60" y1="409.80" x2="174.60" y2="409.80" stroke="#000" stroke-width="1.6" />
<text x="167.80" y="412.70" font-size="8.3" font-weight="bold" text-anchor="end" fill="#000" >0</text>
<line x1="168.00" y1="409.80" x2="258.60" y2="409.80" stroke="#000" stroke-width="1.8" />
<line x1="198.40" y1="409.80" x2="198.40" y2="415.60" stroke="#000" stroke-width="1.6" />
<text x="198.40" y="424.70" font-size="8.4" font-weight="bold" text-anchor="middle" fill="#000" >PMA</text>
<line x1="234.40" y1="409.80" x2="234.40" y2="415.60" stroke="#000" stroke-width="1.6" />
<text x="234.40" y="424.70" font-size="8.4" font-weight="bold" text-anchor="middle" fill="#000" >057</text>
<rect x="175.10" y="241.20" width="27.60" height="15.80" fill="#fff" stroke="#111" stroke-width="1.0" />
<text x="188.90" y="252.40" font-size="9" font-weight="bold" text-anchor="middle" fill="#000" >CD86</text>
<text x="198.70" y="282.90" font-size="10.6" font-weight="bold" text-anchor="middle" fill="#000" >ns</text>
<path d="M234.50 249.90L234.50 246.60M234.50 249.90L237.64 248.88M234.50 249.90L236.44 252.57M234.50 249.90L232.56 252.57M234.50 249.90L231.36 248.88" stroke="#000" stroke-width="1.7" stroke-linecap="butt" fill="none"/>
<rect x="322.35" y="292.35" width="20.90" height="117.45" fill="#c6c6c6" stroke="#454545" stroke-width="1.7" />
<rect x="357.15" y="295.45" width="21.60" height="114.35" fill="#ff8a7d" stroke="#ff2500" stroke-width="1.7" />
<line x1="332.50" y1="275.20" x2="332.50" y2="291.50" stroke="#454545" stroke-width="1.2" />
<line x1="326.30" y1="275.20" x2="338.70" y2="275.20" stroke="#454545" stroke-width="1.2" />
<circle cx="332.40" cy="262.50" r="1.95" fill="none" stroke="#262626" stroke-width="1.35"/>
<circle cx="332.40" cy="292.60" r="1.95" fill="none" stroke="#262626" stroke-width="1.35"/>
<circle cx="332.40" cy="317.60" r="1.95" fill="none" stroke="#262626" stroke-width="1.35"/>
<line x1="368.00" y1="286.30" x2="368.00" y2="294.60" stroke="#ff2500" stroke-width="1.2" />
<line x1="362.00" y1="286.30" x2="374.00" y2="286.30" stroke="#ff2500" stroke-width="1.2" />
<circle cx="368.00" cy="281.20" r="1.95" fill="none" stroke="#ff2500" stroke-width="1.35"/>
<circle cx="368.00" cy="293.70" r="1.95" fill="none" stroke="#ff2500" stroke-width="1.35"/>
<circle cx="368.00" cy="306.90" r="1.95" fill="none" stroke="#ff2500" stroke-width="1.35"/>
<path d="M308.8 242.2 V409.8" stroke="#000" stroke-width="1.8" fill="none"/>
<line x1="303.80" y1="242.70" x2="308.80" y2="242.70" stroke="#000" stroke-width="1.6" />
<text x="302.00" y="245.60" font-size="8.3" font-weight="bold" text-anchor="end" fill="#000" >15</text>
<line x1="303.80" y1="298.40" x2="308.80" y2="298.40" stroke="#000" stroke-width="1.6" />
<text x="302.00" y="301.30" font-size="8.3" font-weight="bold" text-anchor="end" fill="#000" >10</text>
<line x1="303.80" y1="354.10" x2="308.80" y2="354.10" stroke="#000" stroke-width="1.6" />
<text x="302.00" y="357.00" font-size="8.3" font-weight="bold" text-anchor="end" fill="#000" >5</text>
<line x1="303.80" y1="409.80" x2="308.80" y2="409.80" stroke="#000" stroke-width="1.6" />
<text x="302.00" y="412.70" font-size="8.3" font-weight="bold" text-anchor="end" fill="#000" >0</text>
<line x1="303.90" y1="409.80" x2="391.20" y2="409.80" stroke="#000" stroke-width="1.8" />
<line x1="332.60" y1="409.80" x2="332.60" y2="415.60" stroke="#000" stroke-width="1.6" />
<text x="332.60" y="424.70" font-size="8.4" font-weight="bold" text-anchor="middle" fill="#000" >DMSO</text>
<line x1="368.20" y1="409.80" x2="368.20" y2="415.60" stroke="#000" stroke-width="1.6" />
<text x="368.20" y="424.70" font-size="8.4" font-weight="bold" text-anchor="middle" fill="#000" >057</text>
<rect x="309.00" y="241.80" width="53.50" height="15.50" fill="#fff" stroke="#111" stroke-width="1.0" />
<text x="335.75" y="252.70" font-size="9" font-weight="bold" text-anchor="middle" fill="#000" >Annexin V+</text>
<text x="368.00" y="277.00" font-size="10.6" font-weight="bold" text-anchor="middle" fill="#000" >ns</text>
<text transform="translate(287.2 321.3) rotate(-90)" font-size="9" font-weight="bold" text-anchor="middle">Percentage</text>
<path d="M443.0 240.0 V407.2" stroke="#000" stroke-width="1.8" fill="none"/>
<line x1="438.00" y1="407.20" x2="443.00" y2="407.20" stroke="#000" stroke-width="1.6" />
<text x="436.20" y="410.30" font-size="8.8" font-weight="bold" text-anchor="end" fill="#000" >1</text>
<line x1="438.00" y1="383.34" x2="443.00" y2="383.34" stroke="#000" stroke-width="1.6" />
<text x="436.20" y="386.44" font-size="8.8" font-weight="bold" text-anchor="end" fill="#000" >2</text>
<line x1="438.00" y1="359.48" x2="443.00" y2="359.48" stroke="#000" stroke-width="1.6" />
<text x="436.20" y="362.58" font-size="8.8" font-weight="bold" text-anchor="end" fill="#000" >4</text>
<line x1="438.00" y1="335.62" x2="443.00" y2="335.62" stroke="#000" stroke-width="1.6" />
<text x="436.20" y="338.72" font-size="8.8" font-weight="bold" text-anchor="end" fill="#000" >8</text>
<line x1="438.00" y1="311.76" x2="443.00" y2="311.76" stroke="#000" stroke-width="1.6" />
<text x="436.20" y="314.86" font-size="8.8" font-weight="bold" text-anchor="end" fill="#000" >16</text>
<line x1="438.00" y1="287.90" x2="443.00" y2="287.90" stroke="#000" stroke-width="1.6" />
<text x="436.20" y="291.00" font-size="8.8" font-weight="bold" text-anchor="end" fill="#000" >32</text>
<line x1="438.00" y1="264.04" x2="443.00" y2="264.04" stroke="#000" stroke-width="1.6" />
<text x="436.20" y="267.14" font-size="8.8" font-weight="bold" text-anchor="end" fill="#000" >64</text>
<line x1="438.00" y1="240.18" x2="443.00" y2="240.18" stroke="#000" stroke-width="1.6" />
<text x="436.20" y="243.28" font-size="8.8" font-weight="bold" text-anchor="end" fill="#000" >128</text>
<rect x="455.05" y="388.45" width="20.30" height="18.75" fill="#808080" stroke="#1e1e1e" stroke-width="1.5" />
<rect x="488.45" y="314.65" width="20.20" height="92.55" fill="#808080" stroke="#1e1e1e" stroke-width="1.5" />
<rect x="521.75" y="289.25" width="20.30" height="117.95" fill="#808080" stroke="#1e1e1e" stroke-width="1.5" />
<line x1="443.00" y1="407.20" x2="553.80" y2="407.20" stroke="#000" stroke-width="1.8" />
<line x1="465.20" y1="407.20" x2="465.20" y2="412.70" stroke="#000" stroke-width="1.6" />
<text x="465.20" y="423.40" font-size="9.0" font-weight="bold" text-anchor="middle" fill="#1a1a1a" >1.625</text>
<line x1="498.50" y1="407.20" x2="498.50" y2="412.70" stroke="#000" stroke-width="1.6" />
<text x="498.50" y="423.40" font-size="9.0" font-weight="bold" text-anchor="middle" fill="#1a1a1a" >6.25</text>
<line x1="531.80" y1="407.20" x2="531.80" y2="412.70" stroke="#000" stroke-width="1.6" />
<text x="531.80" y="423.40" font-size="9.0" font-weight="bold" text-anchor="middle" fill="#1a1a1a" >25</text>
<text x="497.90" y="437.60" font-size="8.8" font-weight="bold" text-anchor="middle" fill="#1a1a1a" >Conc. (µM)</text>
<line x1="465.20" y1="384.00" x2="465.20" y2="387.70" stroke="#1e1e1e" stroke-width="1.2" />
<line x1="459.50" y1="384.00" x2="470.90" y2="384.00" stroke="#1e1e1e" stroke-width="1.2" />
<line x1="498.30" y1="309.00" x2="498.30" y2="313.90" stroke="#1e1e1e" stroke-width="1.2" />
<line x1="491.70" y1="309.00" x2="504.90" y2="309.00" stroke="#1e1e1e" stroke-width="1.2" />
<line x1="531.80" y1="286.20" x2="531.80" y2="288.50" stroke="#1e1e1e" stroke-width="1.2" />
<line x1="525.30" y1="286.20" x2="538.30" y2="286.20" stroke="#1e1e1e" stroke-width="1.2" />
<circle cx="461.60" cy="369.00" r="1.90" fill="none" stroke="#262626" stroke-width="1.25"/>
<circle cx="468.40" cy="369.00" r="1.90" fill="none" stroke="#262626" stroke-width="1.25"/>
<circle cx="461.80" cy="377.90" r="1.90" fill="none" stroke="#262626" stroke-width="1.25"/>
<circle cx="468.40" cy="376.10" r="1.90" fill="none" stroke="#262626" stroke-width="1.25"/>
<circle cx="465.00" cy="385.00" r="1.90" fill="none" stroke="#262626" stroke-width="1.25"/>
<circle cx="458.60" cy="386.90" r="1.90" fill="none" stroke="#262626" stroke-width="1.25"/>
<circle cx="465.00" cy="391.20" r="1.90" fill="none" stroke="#262626" stroke-width="1.25"/>
<circle cx="472.00" cy="390.40" r="1.90" fill="none" stroke="#262626" stroke-width="1.25"/>
<circle cx="458.40" cy="393.90" r="1.90" fill="none" stroke="#262626" stroke-width="1.25"/>
<circle cx="465.00" cy="396.80" r="1.90" fill="none" stroke="#262626" stroke-width="1.25"/>
<circle cx="472.00" cy="401.10" r="1.90" fill="none" stroke="#262626" stroke-width="1.25"/>
<circle cx="465.00" cy="404.00" r="1.90" fill="none" stroke="#262626" stroke-width="1.25"/>
<circle cx="458.40" cy="405.40" r="1.90" fill="none" stroke="#262626" stroke-width="1.25"/>
<circle cx="472.00" cy="404.90" r="1.90" fill="none" stroke="#262626" stroke-width="1.25"/>
<circle cx="498.40" cy="285.80" r="1.90" fill="none" stroke="#262626" stroke-width="1.25"/>
<circle cx="498.40" cy="296.00" r="1.90" fill="none" stroke="#262626" stroke-width="1.25"/>
<circle cx="498.40" cy="302.60" r="1.90" fill="none" stroke="#262626" stroke-width="1.25"/>
<circle cx="492.00" cy="307.50" r="1.90" fill="none" stroke="#262626" stroke-width="1.25"/>
<circle cx="492.00" cy="315.40" r="1.90" fill="none" stroke="#262626" stroke-width="1.25"/>
<circle cx="498.40" cy="315.40" r="1.90" fill="none" stroke="#262626" stroke-width="1.25"/>
<circle cx="505.00" cy="315.40" r="1.90" fill="none" stroke="#262626" stroke-width="1.25"/>
<circle cx="492.00" cy="320.60" r="1.90" fill="none" stroke="#262626" stroke-width="1.25"/>
<circle cx="505.00" cy="320.60" r="1.90" fill="none" stroke="#262626" stroke-width="1.25"/>
<circle cx="498.40" cy="325.00" r="1.90" fill="none" stroke="#262626" stroke-width="1.25"/>
<circle cx="498.40" cy="329.90" r="1.90" fill="none" stroke="#262626" stroke-width="1.25"/>
<circle cx="498.40" cy="348.70" r="1.90" fill="none" stroke="#262626" stroke-width="1.25"/>
<circle cx="498.40" cy="364.60" r="1.90" fill="none" stroke="#262626" stroke-width="1.25"/>
<circle cx="531.70" cy="254.40" r="1.90" fill="none" stroke="#262626" stroke-width="1.25"/>
<circle cx="526.20" cy="285.00" r="1.90" fill="none" stroke="#262626" stroke-width="1.25"/>
<circle cx="529.50" cy="283.50" r="1.90" fill="none" stroke="#262626" stroke-width="1.25"/>
<circle cx="533.60" cy="281.80" r="1.90" fill="none" stroke="#262626" stroke-width="1.25"/>
<circle cx="537.00" cy="284.20" r="1.90" fill="none" stroke="#262626" stroke-width="1.25"/>
<circle cx="526.50" cy="288.80" r="1.90" fill="none" stroke="#262626" stroke-width="1.25"/>
<circle cx="530.00" cy="291.20" r="1.90" fill="none" stroke="#262626" stroke-width="1.25"/>
<circle cx="534.00" cy="290.80" r="1.90" fill="none" stroke="#262626" stroke-width="1.25"/>
<circle cx="538.00" cy="290.20" r="1.90" fill="none" stroke="#262626" stroke-width="1.25"/>
<circle cx="540.80" cy="288.20" r="1.90" fill="none" stroke="#262626" stroke-width="1.25"/>
<circle cx="533.50" cy="286.20" r="1.90" fill="none" stroke="#262626" stroke-width="1.25"/>
<circle cx="523.50" cy="288.50" r="1.90" fill="none" stroke="#262626" stroke-width="1.25"/>
<circle cx="531.70" cy="298.50" r="1.90" fill="none" stroke="#262626" stroke-width="1.25"/>
<circle cx="531.70" cy="303.90" r="1.90" fill="none" stroke="#262626" stroke-width="1.25"/>
<circle cx="531.70" cy="326.30" r="1.90" fill="none" stroke="#262626" stroke-width="1.25"/>
<rect x="442.60" y="240.60" width="44.70" height="15.70" fill="#fff" stroke="#111" stroke-width="1.0" />
<text x="464.95" y="251.70" font-size="8.9" font-weight="bold" text-anchor="middle" fill="#000" >IRF Lucia</text>
<text transform="translate(415.9 316.4) rotate(-90)" font-size="8.7" font-weight="bold" text-anchor="middle">Fold over DMSO</text>
<path d="M571.7 239.3 V406.8" stroke="#000" stroke-width="1.8" fill="none"/>
<line x1="566.70" y1="406.80" x2="571.70" y2="406.80" stroke="#000" stroke-width="1.6" />
<text x="564.90" y="409.90" font-size="8.8" font-weight="bold" text-anchor="end" fill="#000" >1</text>
<line x1="566.70" y1="365.05" x2="571.70" y2="365.05" stroke="#000" stroke-width="1.6" />
<text x="564.90" y="368.15" font-size="8.8" font-weight="bold" text-anchor="end" fill="#000" >2</text>
<line x1="566.70" y1="323.30" x2="571.70" y2="323.30" stroke="#000" stroke-width="1.6" />
<text x="564.90" y="326.40" font-size="8.8" font-weight="bold" text-anchor="end" fill="#000" >4</text>
<line x1="566.70" y1="281.55" x2="571.70" y2="281.55" stroke="#000" stroke-width="1.6" />
<text x="564.90" y="284.65" font-size="8.8" font-weight="bold" text-anchor="end" fill="#000" >8</text>
<line x1="566.70" y1="239.80" x2="571.70" y2="239.80" stroke="#000" stroke-width="1.6" />
<text x="564.90" y="242.90" font-size="8.8" font-weight="bold" text-anchor="end" fill="#000" >16</text>
<rect x="583.75" y="375.95" width="20.50" height="30.85" fill="#808080" stroke="#1e1e1e" stroke-width="1.5" />
<rect x="617.75" y="325.15" width="20.30" height="81.65" fill="#808080" stroke="#1e1e1e" stroke-width="1.5" />
<rect x="651.45" y="296.35" width="19.80" height="110.45" fill="#808080" stroke="#1e1e1e" stroke-width="1.5" />
<line x1="571.70" y1="406.80" x2="682.20" y2="406.80" stroke="#000" stroke-width="1.8" />
<line x1="594.20" y1="406.80" x2="594.20" y2="412.30" stroke="#000" stroke-width="1.6" />
<text x="594.20" y="423.00" font-size="9.0" font-weight="bold" text-anchor="middle" fill="#1a1a1a" >1.625</text>
<line x1="627.60" y1="406.80" x2="627.60" y2="412.30" stroke="#000" stroke-width="1.6" />
<text x="627.60" y="423.00" font-size="9.0" font-weight="bold" text-anchor="middle" fill="#1a1a1a" >6.25</text>
<line x1="661.10" y1="406.80" x2="661.10" y2="412.30" stroke="#000" stroke-width="1.6" />
<text x="661.10" y="423.00" font-size="9.0" font-weight="bold" text-anchor="middle" fill="#1a1a1a" >25</text>
<text x="627.40" y="437.40" font-size="8.8" font-weight="bold" text-anchor="middle" fill="#1a1a1a" >Conc. (µM)</text>
<line x1="594.30" y1="371.20" x2="594.30" y2="375.20" stroke="#1e1e1e" stroke-width="1.2" />
<line x1="586.80" y1="371.20" x2="601.80" y2="371.20" stroke="#1e1e1e" stroke-width="1.2" />
<line x1="627.50" y1="316.30" x2="627.50" y2="324.40" stroke="#1e1e1e" stroke-width="1.2" />
<line x1="621.60" y1="316.30" x2="633.40" y2="316.30" stroke="#1e1e1e" stroke-width="1.2" />
<line x1="661.50" y1="287.50" x2="661.50" y2="295.60" stroke="#1e1e1e" stroke-width="1.2" />
<line x1="655.60" y1="287.50" x2="667.40" y2="287.50" stroke="#1e1e1e" stroke-width="1.2" />
<circle cx="590.70" cy="351.70" r="1.90" fill="none" stroke="#262626" stroke-width="1.25"/>
<circle cx="597.50" cy="350.10" r="1.90" fill="none" stroke="#262626" stroke-width="1.25"/>
<circle cx="594.10" cy="358.20" r="1.90" fill="none" stroke="#262626" stroke-width="1.25"/>
<circle cx="594.10" cy="361.80" r="1.90" fill="none" stroke="#262626" stroke-width="1.25"/>
<circle cx="587.50" cy="371.80" r="1.90" fill="none" stroke="#262626" stroke-width="1.25"/>
<circle cx="594.10" cy="371.80" r="1.90" fill="none" stroke="#262626" stroke-width="1.25"/>
<circle cx="600.70" cy="371.80" r="1.90" fill="none" stroke="#262626" stroke-width="1.25"/>
<circle cx="587.50" cy="383.30" r="1.90" fill="none" stroke="#262626" stroke-width="1.25"/>
<circle cx="594.10" cy="385.30" r="1.90" fill="none" stroke="#262626" stroke-width="1.25"/>
<circle cx="600.70" cy="383.80" r="1.90" fill="none" stroke="#262626" stroke-width="1.25"/>
<circle cx="587.50" cy="394.90" r="1.90" fill="none" stroke="#262626" stroke-width="1.25"/>
<circle cx="594.10" cy="396.70" r="1.90" fill="none" stroke="#262626" stroke-width="1.25"/>
<circle cx="600.70" cy="395.30" r="1.90" fill="none" stroke="#262626" stroke-width="1.25"/>
<circle cx="594.10" cy="402.90" r="1.90" fill="none" stroke="#262626" stroke-width="1.25"/>
<circle cx="627.40" cy="269.50" r="1.90" fill="none" stroke="#262626" stroke-width="1.25"/>
<circle cx="627.40" cy="295.10" r="1.90" fill="none" stroke="#262626" stroke-width="1.25"/>
<circle cx="627.40" cy="315.40" r="1.90" fill="none" stroke="#262626" stroke-width="1.25"/>
<circle cx="620.70" cy="322.10" r="1.90" fill="none" stroke="#262626" stroke-width="1.25"/>
<circle cx="634.10" cy="320.80" r="1.90" fill="none" stroke="#262626" stroke-width="1.25"/>
<circle cx="621.20" cy="326.60" r="1.90" fill="none" stroke="#262626" stroke-width="1.25"/>
<circle cx="633.90" cy="326.60" r="1.90" fill="none" stroke="#262626" stroke-width="1.25"/>
<circle cx="627.60" cy="332.70" r="1.90" fill="none" stroke="#262626" stroke-width="1.25"/>
<circle cx="627.60" cy="339.10" r="1.90" fill="none" stroke="#262626" stroke-width="1.25"/>
<circle cx="627.60" cy="348.70" r="1.90" fill="none" stroke="#262626" stroke-width="1.25"/>
<circle cx="627.60" cy="357.80" r="1.90" fill="none" stroke="#262626" stroke-width="1.25"/>
<circle cx="627.60" cy="369.20" r="1.90" fill="none" stroke="#262626" stroke-width="1.25"/>
<circle cx="627.60" cy="379.20" r="1.90" fill="none" stroke="#262626" stroke-width="1.25"/>
<circle cx="661.30" cy="244.00" r="1.90" fill="none" stroke="#262626" stroke-width="1.25"/>
<circle cx="661.30" cy="263.00" r="1.90" fill="none" stroke="#262626" stroke-width="1.25"/>
<circle cx="661.30" cy="277.30" r="1.90" fill="none" stroke="#262626" stroke-width="1.25"/>
<circle cx="661.30" cy="291.30" r="1.90" fill="none" stroke="#262626" stroke-width="1.25"/>
<circle cx="652.00" cy="295.80" r="1.90" fill="none" stroke="#262626" stroke-width="1.25"/>
<circle cx="670.70" cy="296.90" r="1.90" fill="none" stroke="#262626" stroke-width="1.25"/>
<circle cx="664.20" cy="298.50" r="1.90" fill="none" stroke="#262626" stroke-width="1.25"/>
<circle cx="652.00" cy="307.40" r="1.90" fill="none" stroke="#262626" stroke-width="1.25"/>
<circle cx="670.70" cy="308.80" r="1.90" fill="none" stroke="#262626" stroke-width="1.25"/>
<circle cx="658.00" cy="309.60" r="1.90" fill="none" stroke="#262626" stroke-width="1.25"/>
<circle cx="664.20" cy="308.80" r="1.90" fill="none" stroke="#262626" stroke-width="1.25"/>
<circle cx="658.00" cy="322.10" r="1.90" fill="none" stroke="#262626" stroke-width="1.25"/>
<circle cx="664.20" cy="323.00" r="1.90" fill="none" stroke="#262626" stroke-width="1.25"/>
<circle cx="661.00" cy="360.80" r="1.90" fill="none" stroke="#262626" stroke-width="1.25"/>
<rect x="572.20" y="239.40" width="58.30" height="16.30" fill="#fff" stroke="#111" stroke-width="1.0" />
<text x="601.35" y="251.10" font-size="8.9" font-weight="bold" text-anchor="middle" fill="#000" >NF-<tspan font-family="Liberation Serif" font-style="italic" font-weight="normal">κ</tspan>B-SEAP</text>
</svg></body></html>
